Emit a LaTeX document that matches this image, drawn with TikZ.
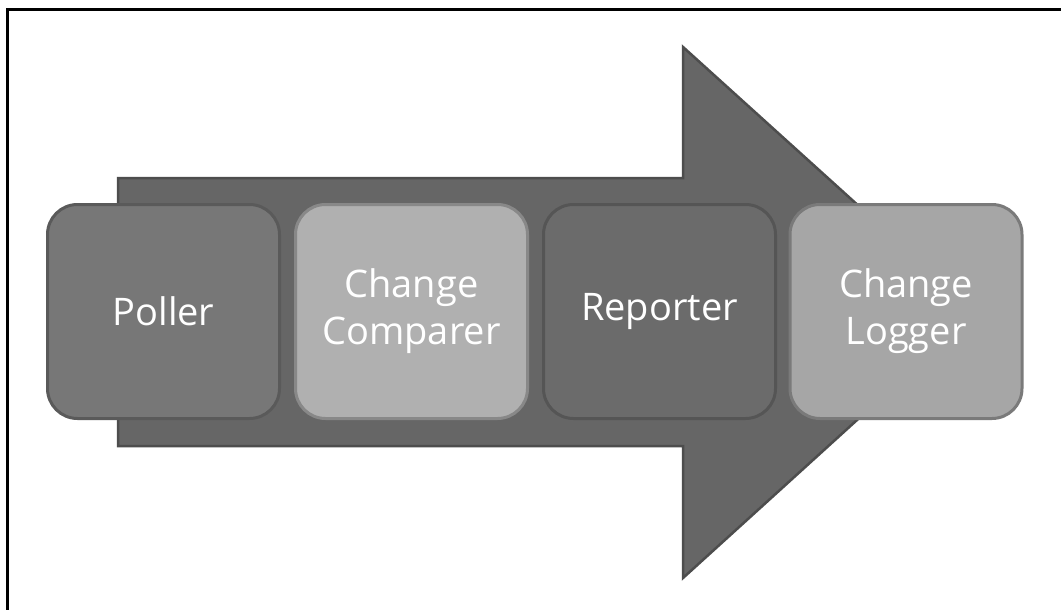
\documentclass[tikz,border=0pt]{standalone}
\usepackage{fontspec}
\setmainfont{Open Sans}
\definecolor{arrowfill}{HTML}{666666}
\definecolor{arrowline}{HTML}{4D4D4D}
\definecolor{darkfill}{HTML}{777777}
\definecolor{darkline}{HTML}{5A5A5A}
\definecolor{lightfill}{HTML}{B0B0B0}
\definecolor{lightline}{HTML}{888888}
\definecolor{repfill}{HTML}{6B6B6B}
\definecolor{repline}{HTML}{555555}
\definecolor{logfill}{HTML}{A6A6A6}
\definecolor{logline}{HTML}{7A7A7A}
\tikzset{
  stagebox/.style={rectangle, rounded corners=30pt, line width=3pt,
    minimum width=232pt, minimum height=214pt, inner sep=0pt,
    text=white, align=center, font=\fontsize{38}{47}\selectfont},
}
\begin{document}
\begin{tikzpicture}[x=1pt,y=-1pt]
\useasboundingbox (0,0) rectangle (1061,610);
\fill[white] (0,0) rectangle (1061,610);
\draw[line width=3pt, black] (7,610) -- (7,10) -- (1061,10);
% big arrow
\draw[fill=arrowfill, draw=arrowline, line width=2.5pt, line join=miter]
  (118,178) -- (683,178) -- (683,47) -- (976,312) -- (683,578) -- (683,446) -- (118,446) -- cycle;
\node[stagebox, fill=darkfill, draw=darkline] (poller) at (163.5,311.5) {Poller};
\node[stagebox, fill=lightfill, draw=lightline] (comparer) at (411.5,311.5) {Change\\Comparer};
\node[stagebox, fill=repfill, draw=repline] (reporter) at (659.5,311.5) {Reporter};
\node[stagebox, fill=logfill, draw=logline] (logger) at (906,311.5) {Change\\Logger};
\end{tikzpicture}
\end{document}
